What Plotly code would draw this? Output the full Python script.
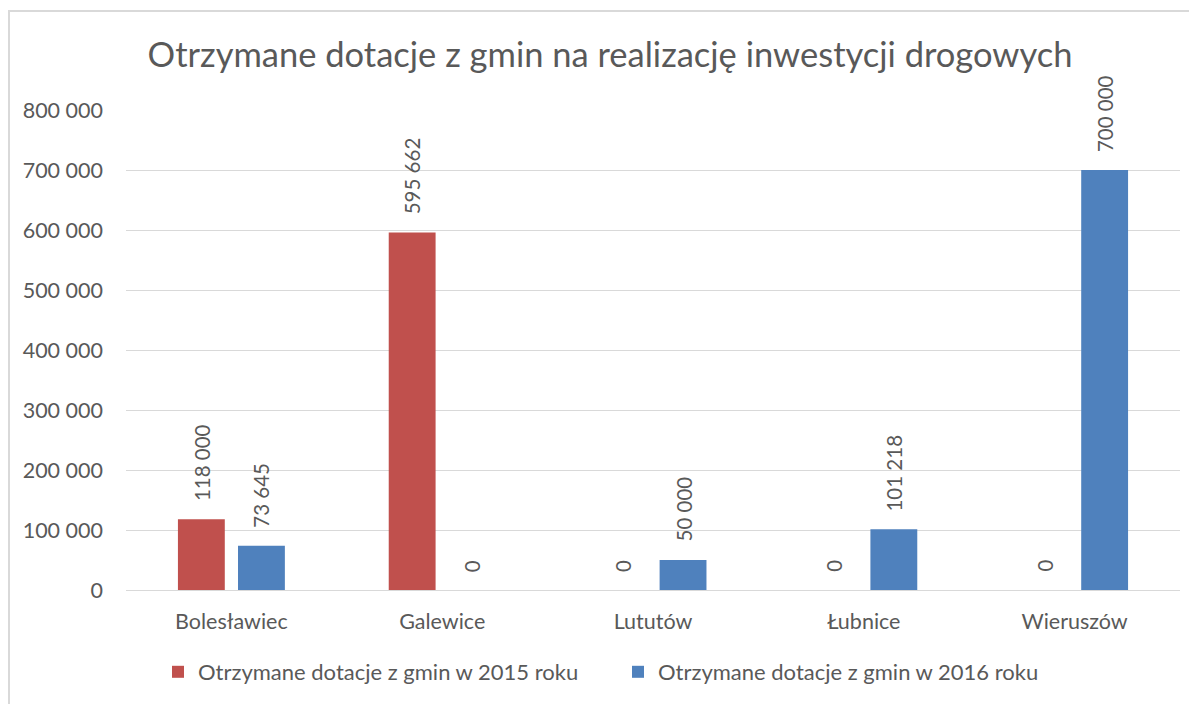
import plotly.graph_objects as go

categories = ["Bolesławiec", "Galewice", "Lututów", "Łubnice", "Wieruszów"]
values_2015 = [118000, 595662, 0, 0, 0]
values_2016 = [73645, 0, 50000, 101218, 700000]
series_names = ["Otrzymane dotacje z gmin w 2015 roku", "Otrzymane dotacje z gmin w 2016 roku"]
series_colors = ["#C0504D", "#4F81BD"]
tick_values = [0, 100000, 200000, 300000, 400000, 500000, 600000, 700000, 800000]
title_text = "Otrzymane dotacje z gmin na realizację inwestycji drogowych"

FONT = "Lato"
GRAY = "#595959"
OFF = 8  # page body margin
W, H = 1197 - OFF, 704 - OFF
ML, MR, MT, MB = 126 - OFF, 17, 110 - OFF, H - (590 - OFF)
PW, PH = W - ML - MR, H - MT - MB

fig = go.Figure()
for name, vals, col in zip(series_names, [values_2015, values_2016], series_colors):
    fig.add_trace(go.Bar(x=categories, y=vals, name=name, marker=dict(color=col, line=dict(width=0))))

def fmt(v):
    return f"{v:,}".replace(",", " ")

shifts = [-30, 30]
for vals, sh in zip([values_2015, values_2016], shifts):
    for c, v in zip(categories, vals):
        fig.add_annotation(x=c, y=v, xref="x", yref="y", text=fmt(v), showarrow=False,
                           textangle=-90, yanchor="bottom", xanchor="center",
                           xshift=sh, yshift=16, font=dict(family=FONT, size=20.5, color=GRAY))

fig.update_layout(
    width=W, height=H,
    margin=dict(l=ML, r=MR, t=MT, b=MB),
    paper_bgcolor="white", plot_bgcolor="white",
    separators=", ",
    barmode="group", bargap=0.43, bargroupgap=0.22,
    title=dict(text=title_text, x=(610 - OFF) / W, xanchor="center", xref="container",
               y=1 - (55 - OFF) / H, yanchor="middle", yref="container",
               font=dict(family=FONT, size=34.5, color=GRAY)),
    font=dict(family=FONT, size=21.5, color=GRAY),
    xaxis=dict(showgrid=False, showline=False, ticks="", ticklabelstandoff=16,
               tickfont=dict(size=21.5, color=GRAY)),
    yaxis=dict(range=[0, 800000], tickvals=tick_values,
               ticktext=[fmt(v) for v in tick_values],
               gridcolor="#D9D9D9", gridwidth=1.3, zeroline=True, zerolinecolor="#D9D9D9",
               zerolinewidth=1.3, showline=False, ticks="", ticklabelstandoff=22,
               tickfont=dict(size=21.5, color=GRAY)),
    legend=dict(orientation="h", xref="container", x=(150) / W, xanchor="left",
                yref="container", y=1 - (672 - OFF) / H, yanchor="middle",
                font=dict(size=22, color=GRAY), entrywidth=415, entrywidthmode="pixels",
                itemwidth=30),
    showlegend=True,
)
fig.add_shape(type="rect", xref="paper", yref="paper",
              x0=(1 - ML) / PW, x1=(W + 20 - ML) / PW,
              y0=-(H + 20 - (H - MB)) / PH, y1=1 + (MT - 3) / PH,
              line=dict(color="#D9D9D9", width=2), fillcolor="rgba(0,0,0,0)", layer="below")

fig.write_html("out.html")
